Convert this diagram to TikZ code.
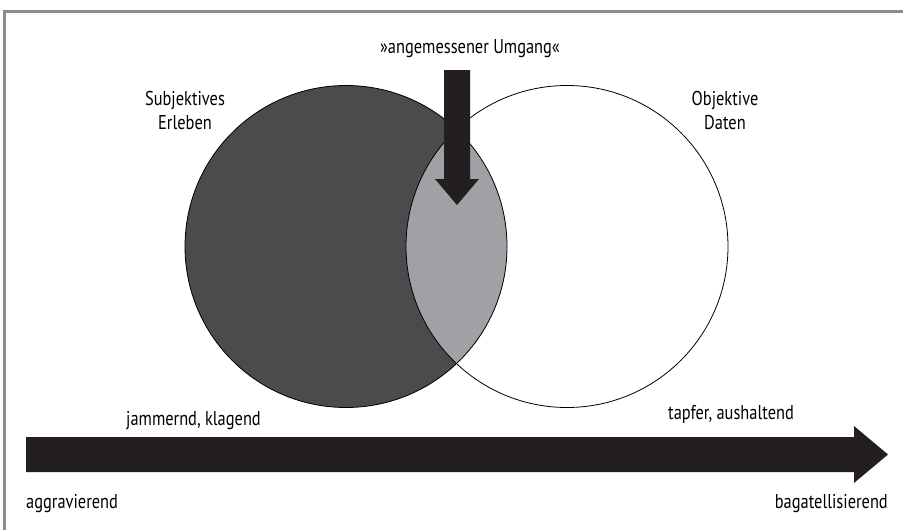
\documentclass[tikz,border=0pt]{standalone}
\usepackage{fontspec}
\setmainfont{PT Sans}[FakeStretch=0.82]
\definecolor{darkfill}{HTML}{4A4B4D}
\definecolor{lensfill}{HTML}{A0A1A4}
\definecolor{arrowfill}{HTML}{231F20}
\definecolor{framegray}{HTML}{8C8C8E}
\begin{document}
\begin{tikzpicture}[x=1pt,y=-1pt,
  lbl/.style={inner sep=0pt, font=\fontsize{20}{24}\selectfont, text=black},
  venn/.style={circle, minimum size=322pt, inner sep=0pt},
  bigarrow/.style={fill=arrowfill}]
\useasboundingbox (0,0) rectangle (903,530);
\fill[white] (0,0) rectangle (903,530);
% frame
\draw[framegray, line width=3pt] (4.5,530) -- (4.5,11.5) -- (903,11.5);
% circles
\node[venn] (subj) at (346,246.5) {};
\node[venn] (obj) at (567,246.5) {};
\fill[darkfill] (subj.center) circle[radius=161pt];
\begin{scope}
  \clip (subj.center) circle[radius=161pt];
  \fill[lensfill] (obj.center) circle[radius=161pt];
\end{scope}
\draw[black, line width=0.8pt] (subj.center) circle[radius=161pt];
\draw[black, line width=0.8pt] (obj.center) circle[radius=161pt];
% down arrow
\fill[bigarrow] (444,70) -- (470,70) -- (470,179) -- (479,179) -- (457,205) -- (435,179) -- (444,179) -- cycle;
% horizontal arrow
\fill[bigarrow] (26,437) -- (854,437) -- (854,426) -- (888,454.5) -- (854,483) -- (854,472) -- (26,472) -- cycle;
% labels
\node[lbl, anchor=base] (umg) at (470,53) {»angemessener Umgang«};
\node[lbl, anchor=base, align=center] (subjl) at (185,129) {Subjektives\\Erleben};
\node[lbl, anchor=base, align=center] (objl) at (725,129) {Objektive\\Daten};
\node[lbl, anchor=base west] (jam) at (126,425) {jammernd, klagend};
\node[lbl, anchor=base west] (tap) at (668,419) {tapfer, aushaltend};
\node[lbl, anchor=base west] (agg) at (26,508) {aggravierend};
\node[lbl, anchor=base east] (bag) at (888,508) {bagatellisierend};
\end{tikzpicture}
\end{document}
